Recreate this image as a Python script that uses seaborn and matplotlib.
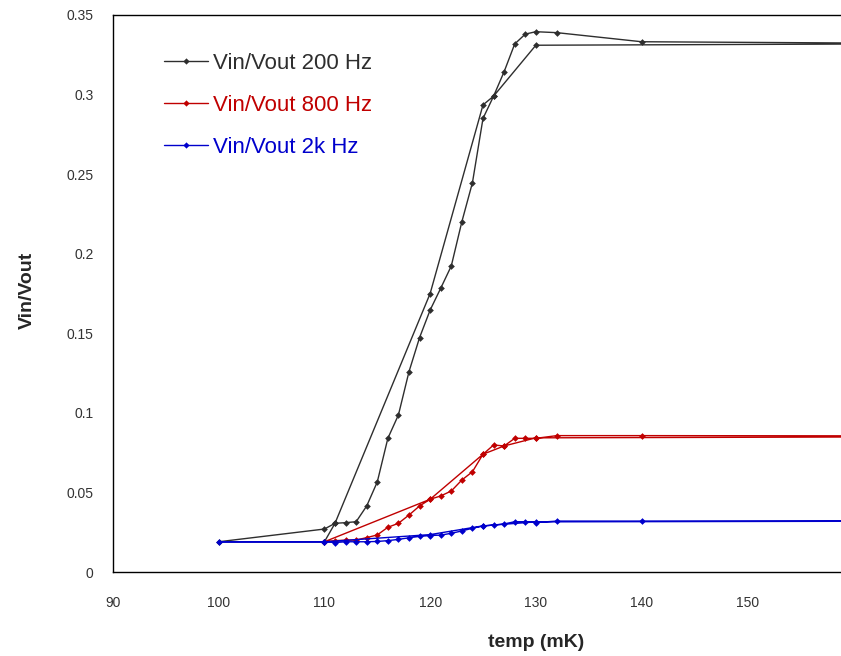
import matplotlib
matplotlib.use("Agg")
import matplotlib.pyplot as plt
import seaborn as sns
import pandas as pd
from matplotlib.lines import Line2D

# ---- data (polyline order as drawn in the reference) ----
black_temp = [170, 130, 126, 125, 120, 111, 110, 100, 110, 111, 112, 113, 114, 115, 116, 117,
              118, 119, 120, 121, 122, 123, 124, 125, 126, 127, 128, 129, 130, 132, 140, 170]
black_val = [0.332, 0.331, 0.299, 0.2935, 0.175, 0.0306, 0.019, 0.019, 0.027, 0.0306, 0.031,
             0.0316, 0.0415, 0.0566, 0.084, 0.0987, 0.1259, 0.1473, 0.1646, 0.1783, 0.1923,
             0.2201, 0.2446, 0.285, 0.299, 0.3144, 0.3318, 0.338, 0.3395, 0.3389, 0.3332, 0.332]

red_temp = [170, 130, 127, 125, 120, 110, 111, 112, 113, 114, 115, 116, 117, 118, 119, 120,
            121, 122, 123, 124, 125, 126, 127, 128, 129, 130, 132, 140, 170]
red_val = [0.0850, 0.0843, 0.0792, 0.074, 0.0457, 0.019, 0.0197, 0.020, 0.0201, 0.0216, 0.0233,
           0.0281, 0.0306, 0.0358, 0.0415, 0.0457, 0.0478, 0.0509, 0.0578, 0.063, 0.074,
           0.0798, 0.0792, 0.084, 0.084, 0.084, 0.0857, 0.0857, 0.0855]

blue_temp = [170, 130, 125, 120, 110, 100, 110, 111, 112, 113, 114, 115, 116, 117, 118, 119,
             120, 121, 122, 123, 124, 125, 126, 127, 128, 129, 130, 132, 140, 170]
blue_val = [0.032, 0.0315, 0.029, 0.0235, 0.019, 0.019, 0.019, 0.0185, 0.019, 0.019, 0.019,
            0.0192, 0.0197, 0.0205, 0.0215, 0.0224, 0.0229, 0.0232, 0.0243, 0.0258, 0.0275,
            0.0289, 0.0295, 0.0302, 0.0316, 0.0316, 0.0311, 0.032, 0.032, 0.032]

series_names = ["Vin/Vout 200 Hz", "Vin/Vout 800 Hz", "Vin/Vout 2k Hz"]
series_colors = ["#2E2E2E", "#C00000", "#0000CC"]
x_ticks = [90, 100, 110, 120, 130, 140, 150, 160]
y_ticks = [0, 0.05, 0.1, 0.15, 0.2, 0.25, 0.3, 0.35]
y_tick_labels = ["0", "0.05", "0.1", "0.15", "0.2", "0.25", "0.3", "0.35"]

frames = []
for name, t, v in zip(series_names, [black_temp, red_temp, blue_temp],
                      [black_val, red_val, blue_val]):
    frames.append(pd.DataFrame({"temp": t, "value": v, "series": name,
                                "order": range(len(t))}))
df = pd.concat(frames, ignore_index=True)

sns.set_style("white")
plt.rcParams["font.family"] = ["Liberation Sans", "DejaVu Sans"]
narrow = ["Liberation Sans Narrow", "Liberation Sans", "DejaVu Sans"]

fig = plt.figure(figsize=(8.41, 6.56), dpi=100)
ax = fig.add_axes([113 / 841, 84 / 656, 740 / 841, 557 / 656])

sns.lineplot(data=df, x="temp", y="value", hue="series", hue_order=series_names,
             palette=series_colors, sort=False, estimator=None, units="series",
             marker="D", markersize=3.4, markeredgewidth=0, linewidth=1.0, ax=ax,
             legend=False)

ax.set_xlim(90, 160)
ax.set_ylim(0, 0.35)
ax.set_xticks(x_ticks)
ax.set_xticklabels([str(t) for t in x_ticks], fontsize=10, family=narrow)
ax.set_yticks(y_ticks)
ax.set_yticklabels(y_tick_labels, fontsize=10, family=narrow)
ax.tick_params(axis="x", direction="in", length=7, width=1, pad=17, colors="#000000",
               labelcolor="#333333")
ax.tick_params(axis="y", direction="in", length=7, width=1, pad=14, colors="#000000",
               labelcolor="#333333")

for s in ["left", "top", "right", "bottom"]:
    ax.spines[s].set_visible(True)
    ax.spines[s].set_color("#000000")
    ax.spines[s].set_linewidth(1.0)

ax.set_xlabel("temp (mK)", fontsize=14, fontweight="bold", family=narrow)
ax.xaxis.set_label_coords((536 - 113) / 740, -(634 - 572) / 557)
ax.set_ylabel("Vin/Vout", fontsize=14, fontweight="bold", family=narrow)
ax.yaxis.set_label_coords((36 - 113) / 740, (572 - 290) / 557)

handles = []
for c in series_colors:
    handles.append(Line2D([], [], color=c, marker="D", markersize=3.2,
                          markeredgewidth=0, linewidth=1.0))
leg = ax.legend(handles, series_names, loc="upper left",
                bbox_to_anchor=(164 / 841, 1 - 53 / 656), bbox_transform=fig.transFigure,
                frameon=False, fontsize=16, handlelength=2.0, handletextpad=0.2,
                labelspacing=0.95, borderpad=0, borderaxespad=0)
for txt, c in zip(leg.get_texts(), series_colors):
    txt.set_color(c)

fig.savefig("out.png", dpi=100, facecolor="white")
